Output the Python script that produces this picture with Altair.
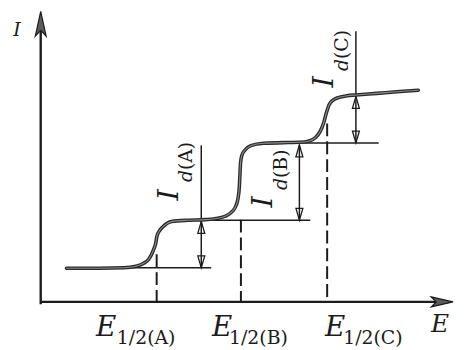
import altair as alt
import pandas as pd

# ---------------- data (E and I in arbitrary units) ----------------
curve_E = [6.5, 14.75, 21.0, 24.0, 26.0, 27.25, 28.5, 29.0, 29.3, 30.0,
           31.0, 33.0, 37.25, 41.5, 44.75, 46.5, 48.25, 49.25, 49.75, 50.1,
           50.25, 50.4, 50.75, 51.5, 53.0, 56.25, 62.25, 65.25, 67.75, 69.25,
           70.5, 71.4, 72.0, 72.75, 73.75, 75.25, 77.25, 79.5, 84.75, 89.75,
           95.25]
curve_I = [8.5, 8.5, 8.62, 9.0, 9.75, 10.75, 13.25, 14.75, 16.5, 18.0,
           19.1, 20.25, 20.6, 20.75, 21.1, 21.6, 22.75, 24.25, 26.0, 29.0,
           32.0, 35.0, 37.0, 38.25, 39.4, 40.0, 40.2, 40.25, 40.6, 41.4,
           43.0, 45.25, 47.5, 49.75, 50.9, 51.6, 52.0, 52.2, 52.6, 53.0,
           53.4]

species = ["A", "B", "C"]
half_wave_E = [29.25, 50.5, 72.25]
half_wave_top_I = [12.0, 20.75, 45.0]

base_line_I = [8.6, 20.6, 40.1]
base_line_E1 = [22.25, 36.0, 56.0]
base_line_E2 = [43.0, 68.0, 85.25]

id_E = [40.5, 65.25, 79.5]
id_line_top = [39.5, 39.5, 68.25]
id_upper_I = [20.3, 39.6, 51.8]
id_lower_I = [8.6, 20.6, 40.1]

axis_E_end = 104.0
axis_I_end = 73.25

# label anchors (data units)
tick_E_pos = [16.5, 45.75, 74.25]
tick_I_pos = [-8.5, -8.5, -8.5]
sub_E_pos = [19.2, 47.5, 76.3]
sub_I_pos = [-10.5, -10.5, -10.5]
id_I_E_pos = [32.5, 56.0, 71.5]
id_I_I_pos = [27.0, 25.25, 55.5]
id_d_E_pos = [36.75, 60.5, 76.0]
id_d_I_pos = [30.25, 28.25, 58.25]
id_p_I_pos = [33.25, 31.25, 61.25]

# ---------------- scales ----------------
xs = alt.Scale(domain=[-8.25, 104.75], nice=False, zero=False)
ys = alt.Scale(domain=[-11.25, 73.75], nice=False, zero=False)


def X(f):
    return alt.X(f"{f}:Q", scale=xs, axis=None)


def Y(f):
    return alt.Y(f"{f}:Q", scale=ys, axis=None)


INK = "#1c1c1c"
SERIF = "DejaVu Serif"

UP = "M -0.7 2.4 L 0 0 L 0.7 2.4 Z"
DOWN = "M -0.7 -2.4 L 0 0 L 0.7 -2.4 Z"
AX_UP = "M -1.1 5 L 0 0 L 1.1 5 L 0 3.8 Z"
AX_RIGHT = "M -4.4 -1 L 0 0 L -4.4 1 L -3.4 0 Z"

# ---------------- curve ----------------
curve_df = pd.DataFrame({"E": curve_E, "I": curve_I})
curve_outer = alt.Chart(curve_df).mark_line(
    interpolate="monotone", color="#2a2a2a", strokeWidth=3.6, strokeCap="round"
).encode(x=X("E"), y=Y("I"))
curve_inner = alt.Chart(curve_df).mark_line(
    interpolate="monotone", color="#8c8c8c", strokeWidth=1.1, strokeCap="round"
).encode(x=X("E"), y=Y("I"))

# ---------------- axes ----------------
axes_df = pd.DataFrame({
    "E": [0.0, 0.0], "E2": [0.0, axis_E_end - 3.0],
    "I": [-0.6, 0.0], "I2": [axis_I_end - 4.0, 0.0],
})
axes = alt.Chart(axes_df).mark_rule(color=INK, strokeWidth=2.4).encode(
    x=X("E"), x2=alt.X2("E2:Q"), y=Y("I"), y2=alt.Y2("I2:Q"))

axis_heads_df = pd.DataFrame({"E": [axis_E_end, 0.0], "I": [0.0, axis_I_end],
                              "shape": [AX_RIGHT, AX_UP]})
axis_heads = alt.Chart(axis_heads_df).mark_point(
    filled=True, fill="#5a5a5a", stroke=INK, strokeWidth=1.2, size=100, opacity=1
).encode(x=X("E"), y=Y("I"), shape=alt.Shape("shape:N", scale=None))

# ---------------- half-wave dashed lines ----------------
hw_df = pd.DataFrame({"E": half_wave_E, "I": half_wave_top_I, "I2": [0.0] * 3})
hw = alt.Chart(hw_df).mark_rule(color=INK, strokeWidth=2.0, strokeDash=[13, 5]).encode(
    x=X("E"), y=Y("I"), y2=alt.Y2("I2:Q"))

# ---------------- baseline / plateau lines ----------------
bl_df = pd.DataFrame({"E": base_line_E1, "E2": base_line_E2, "I": base_line_I})
bl = alt.Chart(bl_df).mark_rule(color=INK, strokeWidth=1.5).encode(
    x=X("E"), x2=alt.X2("E2:Q"), y=Y("I"))

# ---------------- diffusion current verticals ----------------
idl_df = pd.DataFrame({"E": id_E, "I": id_line_top, "I2": id_lower_I})
idl = alt.Chart(idl_df).mark_rule(color=INK, strokeWidth=1.5).encode(
    x=X("E"), y=Y("I"), y2=alt.Y2("I2:Q"))

idh_df = pd.DataFrame({"E": id_E + id_E, "I": id_upper_I + id_lower_I,
                       "shape": [UP] * 3 + [DOWN] * 3})
idh = alt.Chart(idh_df).mark_point(
    filled=False, color=INK, strokeWidth=1.3, size=100, opacity=1
).encode(x=X("E"), y=Y("I"), shape=alt.Shape("shape:N", scale=None))

# ---------------- text ----------------
axis_I_title = alt.Chart(pd.DataFrame({"t": ["I"], "E": [-6.0], "I": [67.0]})).mark_text(
    font=SERIF, fontStyle="italic", fontSize=19, color=INK, align="center", baseline="alphabetic"
).encode(x=X("E"), y=Y("I"), text="t:N")
axis_E_title = alt.Chart(pd.DataFrame({"t": ["E"], "E": [100.75], "I": [-7.5]})).mark_text(
    font=SERIF, fontStyle="italic", fontSize=25, color=INK, align="center", baseline="alphabetic"
).encode(x=X("E"), y=Y("I"), text="t:N")

tick_df = pd.DataFrame({"t": ["E"] * 3, "E": tick_E_pos, "I": tick_I_pos})
tick_main = alt.Chart(tick_df).mark_text(
    font=SERIF, fontStyle="italic", fontSize=28, color=INK, align="center", baseline="alphabetic"
).encode(x=X("E"), y=Y("I"), text="t:N")
sub_df = pd.DataFrame({"t": [f"1/2({s})" for s in species], "E": sub_E_pos, "I": sub_I_pos})
tick_sub = alt.Chart(sub_df).mark_text(
    font=SERIF, fontSize=19, color=INK, align="left", baseline="alphabetic"
).encode(x=X("E"), y=Y("I"), text="t:N")

idI_df = pd.DataFrame({"t": ["I"] * 3, "E": id_I_E_pos, "I": id_I_I_pos})
idI = alt.Chart(idI_df).mark_text(
    font=SERIF, fontStyle="italic", fontSize=29, color=INK, align="center",
    baseline="middle", angle=270
).encode(x=X("E"), y=Y("I"), text="t:N")
idd_df = pd.DataFrame({"t": ["d"] * 3, "E": id_d_E_pos, "I": id_d_I_pos})
idd = alt.Chart(idd_df).mark_text(
    font=SERIF, fontStyle="italic", fontSize=19, color=INK, align="left",
    baseline="middle", angle=270
).encode(x=X("E"), y=Y("I"), text="t:N")
idp_df = pd.DataFrame({"t": [f"({s})" for s in species], "E": id_d_E_pos, "I": id_p_I_pos})
idp = alt.Chart(idp_df).mark_text(
    font=SERIF, fontSize=19, color=INK, align="left",
    baseline="middle", angle=270
).encode(x=X("E"), y=Y("I"), text="t:N")

chart = alt.layer(
    axes, axis_heads, hw, bl, idl, idh, curve_outer, curve_inner,
    axis_I_title, axis_E_title, tick_main, tick_sub, idI, idd, idp
).properties(
    width=452, height=340, padding=0,
    autosize=alt.AutoSizeParams(type="none"), background="white"
).configure_view(stroke=None)

chart.save("out.html", embed_options={"renderer": "svg", "actions": False})
